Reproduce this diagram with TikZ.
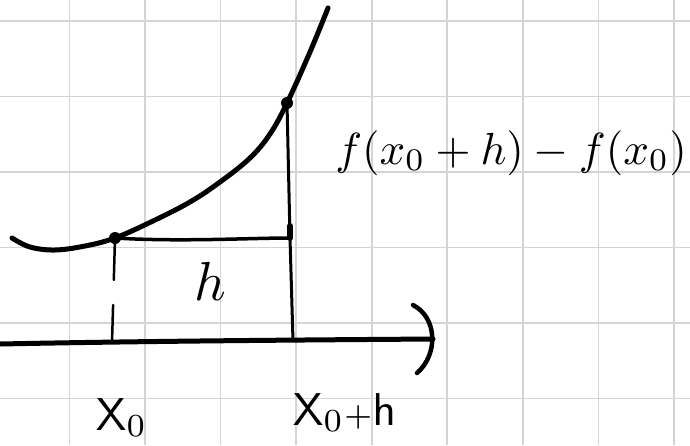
\documentclass[tikz,border=0pt]{standalone}
\begin{document}
\begin{tikzpicture}[x=1pt,y=-1pt,
  gridline/.style={draw=black!17,line width=1.6pt},
  ink/.style={draw=black,line cap=round,line join=round},
  dot/.style={circle,fill=black,inner sep=0pt,minimum size=12pt},
  lbl/.style={inner sep=0pt}]
\useasboundingbox (0,0) rectangle (690,445);
\fill[white] (0,0) rectangle (690,445);
\foreach \i in {0,...,8} \draw[gridline] ({69.5+75.55*\i},0) -- ({69.5+75.55*\i},445);
\foreach \j in {0,...,5} \draw[gridline] (0,{21+75.5*\j}) -- (690,{21+75.5*\j});
% axis
\coordinate (L) at (0,344);
\coordinate (R) at (433,339);
\draw[ink,line width=5pt] (L) .. controls (150,341) and (300,340) .. (R);
\coordinate (ha) at (413,305);
\coordinate (hb) at (417,373);
\draw[ink,line width=4.5pt] (ha) .. controls (438,318) and (438,355) .. (hb);
% curve
\draw[ink,line width=5pt] plot[smooth,tension=0.6] coordinates
  {(12,238) (30,247) (55,250) (85,246) (115,238) (153,221) (190,202) (220,182) (250,158) (270,134) (287,103) (310,52) (328,8)};
% points
\node[dot] (A) at (115,238) {};
\node[dot] (B) at (287,103) {};
\coordinate (C) at (290,238);
\coordinate (Q) at (293,341);
\coordinate (D) at (112,343);
\draw[ink,line width=3pt] (B.center) -- (C) -- (Q);
\draw[ink,line width=3.5pt] (A.center) .. controls (180,242) and (250,238) .. (C);
\draw[ink,line width=6pt] (290,226) -- (C);
\draw[ink,line width=2.5pt,dash pattern=on 42pt off 25pt on 40pt off 10pt] (A.center) -- (D);
% labels
\node[lbl,scale=4.5,anchor=base] (F) at (511,164) {$f(x_0+h)-f(x_0)$};
\node[lbl,scale=5.5,anchor=base] (H) at (210,300) {$h$};
\node[lbl,scale=4.6,anchor=base west] (X0) at (95,430) {$\mathsf{X}_0$};
\node[lbl,scale=4.6,anchor=base west] (X1) at (292,425) {$\mathsf{X}_0{\scriptstyle +}\mathsf{h}$};
\end{tikzpicture}
\end{document}
